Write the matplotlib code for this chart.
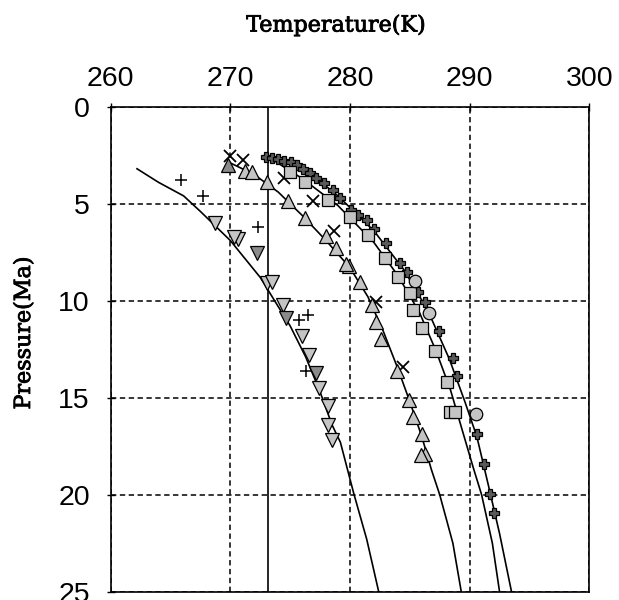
import matplotlib

matplotlib.use("Agg")
import matplotlib.patheffects as pe
import matplotlib.pyplot as plt

# model curves (T in K, P in MPa)
curve1_t = [262.2, 264.0, 266.1, 267.5, 270.0, 272.5, 273.7, 275.0, 276.3, 277.5, 278.5, 279.2, 280.3, 281.4, 282.4]
curve1_p = [3.2, 3.9, 4.6, 5.4, 6.9, 8.8, 10.0, 11.3, 12.9, 14.7, 16.4, 17.3, 19.9, 22.3, 25.0]
curve2_t = [270.0, 272.0, 274.0, 276.0, 278.0, 280.0, 281.5, 282.8, 284.0, 285.0, 286.0, 286.8, 287.5, 288.6, 289.3]
curve2_p = [2.9, 3.5, 4.4, 5.6, 6.9, 8.3, 9.8, 11.6, 13.5, 15.2, 17.0, 18.7, 20.0, 22.5, 25.0]
curve3_t = [273.2, 276.0, 279.0, 282.0, 284.0, 285.8, 287.2, 288.4, 289.3, 290.3, 291.0, 291.9, 292.5]
curve3_p = [2.6, 3.7, 5.1, 7.0, 8.7, 10.6, 12.6, 14.6, 16.5, 18.6, 20.0, 22.5, 25.0]
curve4_t = [273.2, 276.0, 279.0, 282.0, 284.5, 286.5, 288.3, 289.6, 290.6, 291.6, 292.5, 293.5]
curve4_p = [2.6, 3.1, 4.6, 6.4, 8.4, 10.5, 13.0, 15.2, 17.0, 19.6, 22.0, 25.0]

# ice point line
ice_t = 273.15

# measured points
down_t = [268.7, 270.6, 270.3, 273.1, 273.5, 274.4, 276.0, 276.6, 277.4, 278.2, 278.2, 278.5]
down_p = [6.0, 6.8, 6.7, 9.1, 9.05, 10.2, 11.8, 12.8, 14.5, 15.45, 16.4, 17.2]
down_dark_t = [272.2, 274.65, 277.2]
down_dark_p = [7.56, 10.9, 13.74]
plus_t = [265.9, 267.7, 272.3, 275.7, 276.5, 276.3]
plus_p = [3.8, 4.6, 6.2, 11.0, 10.75, 13.6]

up_t = [271.2, 271.8, 273.1, 274.8, 276.2, 278.0, 278.8, 279.9, 279.7, 280.8, 281.8, 282.2, 282.6,
        283.9, 284.9, 285.3, 286.0, 286.3, 285.9]
up_p = [3.3, 3.35, 3.9, 4.85, 5.75, 6.65, 7.3, 8.2, 8.1, 9.05, 10.2, 11.1, 12.0,
        13.6, 15.1, 16.0, 16.85, 17.9, 17.95]
up_dark_t = [269.8]
up_dark_p = [3.0]
cross_t = [270.0, 271.05, 274.45, 276.9, 278.7, 282.2, 284.45]
cross_p = [2.55, 2.75, 3.7, 4.87, 6.4, 10.05, 13.4]

square_t = [275.0, 276.2, 278.2, 280.0, 281.5, 282.9, 284.0, 285.0, 285.3, 286.0, 287.1, 288.1, 288.4, 288.8]
square_p = [3.35, 3.9, 4.8, 5.7, 6.6, 7.8, 8.8, 9.6, 10.5, 11.4, 12.6, 14.2, 15.75, 15.75]
circle_t = [285.4, 286.6, 290.5]
circle_p = [8.97, 10.62, 15.86]
dplus_t = [273.0, 273.5, 274.0, 274.5, 275.1, 275.6, 276.1, 276.65, 277.2, 277.8, 278.6, 279.2, 280.1, 280.7,
           281.4, 282.0, 283.05, 284.2, 284.8, 285.7, 286.25, 287.4, 288.6, 288.95, 290.6, 291.2, 291.7, 292.0]
dplus_p = [2.58, 2.65, 2.7, 2.78, 2.83, 3.0, 3.2, 3.43, 3.7, 3.95, 4.3, 4.7, 5.3, 5.6,
           5.85, 6.3, 7.05, 8.05, 8.5, 9.55, 10.05, 11.55, 12.97, 13.9, 16.85, 18.4, 19.95, 20.95]

x_ticks = [260, 270, 280, 290, 300]
y_ticks = [0, 5, 10, 15, 20, 25]

LIGHT = "#c4c4c4"
DARK = "#8a8a8a"


def main() -> None:
    fig = plt.figure(figsize=(6.19, 6.0), dpi=100)
    ax = fig.add_axes([0.1788, 0.0138, 0.7732, 0.8084])

    for t, p in [(curve1_t, curve1_p), (curve2_t, curve2_p), (curve3_t, curve3_p), (curve4_t, curve4_p)]:
        ax.plot(t, p, color="black", lw=1.2, zorder=3)
    ax.axvline(ice_t, color="black", lw=1.2, zorder=3)

    mk = dict(linestyle="none", markeredgecolor="black", markeredgewidth=0.9, zorder=4)
    ax.plot(dplus_t, dplus_p, marker="P", markersize=7, markerfacecolor="#5a5a5a", **mk)
    ax.plot(down_t, down_p, marker="v", markersize=10, markerfacecolor=LIGHT, **mk)
    ax.plot(down_dark_t, down_dark_p, marker="v", markersize=10, markerfacecolor=DARK, **mk)
    ax.plot(plus_t, plus_p, marker="+", markersize=9, markeredgewidth=1.1, color="black",
            linestyle="none", zorder=4)
    ax.plot(cross_t, cross_p, marker="x", markersize=8, markeredgewidth=1.3, color="black",
            linestyle="none", zorder=4)
    ax.plot(up_t, up_p, marker="^", markersize=10, markerfacecolor=LIGHT, **mk)
    ax.plot(up_dark_t, up_dark_p, marker="^", markersize=10, markerfacecolor=DARK, **mk)
    ax.plot(square_t, square_p, marker="s", markersize=9, markerfacecolor=LIGHT, **mk)
    ax.plot(circle_t, circle_p, marker="o", markersize=9, markerfacecolor=LIGHT, **mk)

    ax.set_xlim(260, 300)
    ax.set_ylim(25, 0)
    ax.set_xticks(x_ticks)
    ax.set_yticks(y_ticks)
    ax.xaxis.tick_top()
    ax.tick_params(labelsize=20.5, direction="inout", length=6, width=1)
    ax.tick_params(axis="x", pad=7.5)
    ax.tick_params(axis="y", pad=12)
    for lab in ax.get_xticklabels() + ax.get_yticklabels():
        lab.set_family("Liberation Sans")

    ax.grid(True, color="black", linestyle=(0, (3.5, 2.3)), linewidth=1.1)
    for s in ax.spines.values():
        s.set_linewidth(1.2)

    # medium-weight serif labels: regular face with a thin outline
    heavier = [pe.withStroke(linewidth=0.6, foreground="black")]
    fig.text(336 / 619, 1 - 31.5 / 600, "Temperature(K)", family="DejaVu Serif", fontsize=16,
             ha="center", va="baseline", path_effects=heavier)
    fig.text(24 / 619, 1 - 333 / 600, "Pressure(Ma)", family="DejaVu Serif", fontsize=16,
             rotation=90, ha="center", va="center", path_effects=heavier)

    fig.savefig("out.png", dpi=100)
    plt.close(fig)


if __name__ == "__main__":
    main()
